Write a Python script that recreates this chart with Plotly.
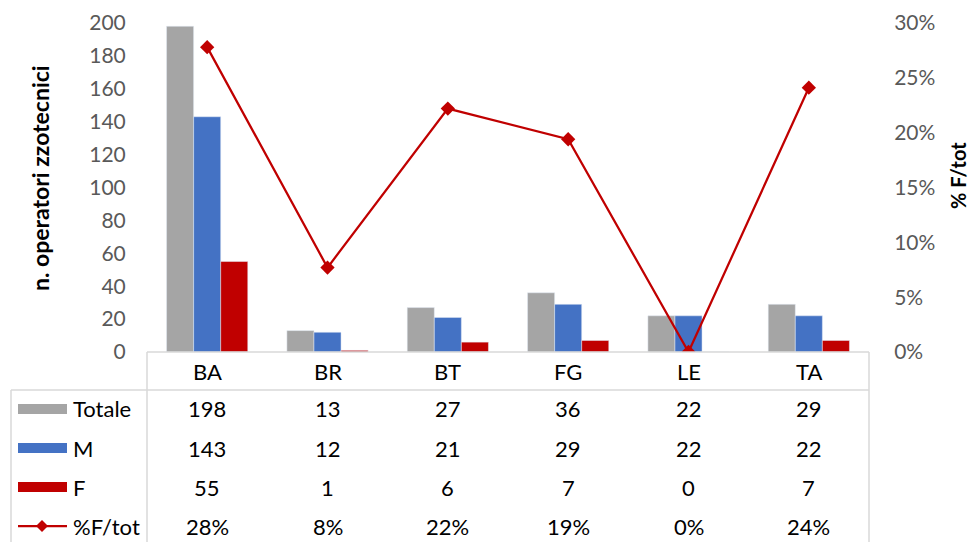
import plotly.graph_objects as go

categories = ["BA", "BR", "BT", "FG", "LE", "TA"]
totale = [198, 13, 27, 36, 22, 29]
maschi = [143, 12, 21, 29, 22, 22]
femmine = [55, 1, 6, 7, 0, 7]
perc_f = [0.278, 0.077, 0.222, 0.194, 0.0, 0.241]
perc_labels = ["28%", "8%", "22%", "19%", "0%", "24%"]
left_ticks = [0, 20, 40, 60, 80, 100, 120, 140, 160, 180, 200]
right_ticks = [0, 0.05, 0.10, 0.15, 0.20, 0.25, 0.30]

GRAY = "#A5A5A5"
BLUE = "#4472C4"
RED = "#C00000"
TXT = "#595959"
FONT = "Lato"

W, H = 972, 542
# plot area in page pixels
L, R, T, B = 147, 869, 23, 352
pw, ph = R - L, B - T


def px(x):
    return (x - L) / pw


def py(y):
    return (B - y) / ph


fig = go.Figure()
fig.add_bar(x=categories, y=totale, name="Totale", marker_color=GRAY, showlegend=False)
fig.add_bar(x=categories, y=maschi, name="M", marker_color=BLUE, showlegend=False)
fig.add_bar(x=categories, y=femmine, name="F", marker_color=RED, showlegend=False)
fig.add_scatter(x=categories, y=perc_f, name="%F/tot", yaxis="y2", mode="lines+markers",
                line=dict(color=RED, width=2.25),
                marker=dict(symbol="diamond", size=11, color=RED), showlegend=False)

fig.update_layout(
    width=W, height=H,
    margin=dict(l=L, r=W - R, t=T, b=H - B, pad=0, autoexpand=False),
    paper_bgcolor="white", plot_bgcolor="white",
    barmode="group", bargap=0.325, bargroupgap=0,
    font=dict(family=FONT, size=21, color=TXT),
    xaxis=dict(showticklabels=False, showgrid=False, zeroline=False, showline=False,
               range=[-0.5, 5.5]),
    yaxis=dict(range=[0, 200], tickvals=left_ticks, showgrid=False, zeroline=False,
               showline=False, ticks="outside", ticklen=16, tickcolor="rgba(0,0,0,0)",
               tickfont=dict(size=21, color=TXT), automargin=False),
    yaxis2=dict(range=[0, 0.30], tickvals=right_ticks, tickformat=".0%", overlaying="y",
                side="right", showgrid=False, zeroline=False, showline=False,
                ticks="outside", ticklen=20, tickcolor="rgba(0,0,0,0)",
                tickfont=dict(size=21, color=TXT), automargin=False),
)

# Data table borders
line_style = dict(color="#D9D9D9", width=1.5)
shapes = [
    dict(type="line", xref="paper", yref="paper", x0=px(L), x1=px(R), y0=py(352), y1=py(352), line=line_style),
    dict(type="line", xref="paper", yref="paper", x0=px(11), x1=px(R), y0=py(390), y1=py(390), line=line_style),
    dict(type="line", xref="paper", yref="paper", x0=px(L), x1=px(L), y0=py(352), y1=py(545), line=line_style),
    dict(type="line", xref="paper", yref="paper", x0=px(R), x1=px(R), y0=py(352), y1=py(545), line=line_style),
    dict(type="line", xref="paper", yref="paper", x0=px(11), x1=px(11), y0=py(390), y1=py(545), line=line_style),
]

TBL = dict(size=22, color="black")
row_y = {"head": 372, "Totale": 409, "M": 448, "F": 487, "%F/tot": 526}
ann = []
for i, c in enumerate(categories):
    for key, txt in [("head", c), ("Totale", str(totale[i])), ("M", str(maschi[i])),
                     ("F", str(femmine[i])), ("%F/tot", perc_labels[i])]:
        ann.append(dict(x=c, xref="x", y=py(row_y[key]), yref="paper", text=txt, showarrow=False,
                        xanchor="center", yanchor="middle", font=TBL))

# legend keys in table
for name, col in [("Totale", GRAY), ("M", BLUE), ("F", RED)]:
    yc = row_y[name]
    shapes.append(dict(type="rect", xref="paper", yref="paper", x0=px(18), x1=px(67),
                       y0=py(yc - 5), y1=py(yc + 5), fillcolor=col, line=dict(width=0)))
    ann.append(dict(x=px(71), xref="paper", y=py(yc), yref="paper", text=name, showarrow=False,
                    xanchor="left", yanchor="middle", font=TBL))
yc = row_y["%F/tot"]
shapes.append(dict(type="line", xref="paper", yref="paper", x0=px(18), x1=px(67),
                   y0=py(yc), y1=py(yc), line=dict(color=RED, width=2.25)))
shapes.append(dict(type="path", xref="paper", yref="paper",
                   path=f"M {px(36)},{py(yc)} L {px(42)},{py(yc-6)} L {px(48)},{py(yc)} L {px(42)},{py(yc+6)} Z",
                   fillcolor=RED, line=dict(width=0)))
ann.append(dict(x=px(71), xref="paper", y=py(yc), yref="paper", text="%F/tot", showarrow=False,
                xanchor="left", yanchor="middle", font=TBL))

# axis titles
ann.append(dict(x=px(40), xref="paper", y=py(178), yref="paper", text="<b>n. operatori zzotecnici</b>",
                textangle=-90, showarrow=False, xanchor="center", yanchor="middle",
                font=dict(size=23, color="black")))
ann.append(dict(x=px(958), xref="paper", y=py(176), yref="paper", text="<b>% F/tot</b>",
                textangle=-90, showarrow=False, xanchor="center", yanchor="middle",
                font=dict(size=20, color="black")))

fig.update_layout(shapes=shapes, annotations=ann)
fig.write_html("out.html", config={"displayModeBar": False},
               post_script="document.body.style.margin='0';document.body.style.overflow='hidden';")
